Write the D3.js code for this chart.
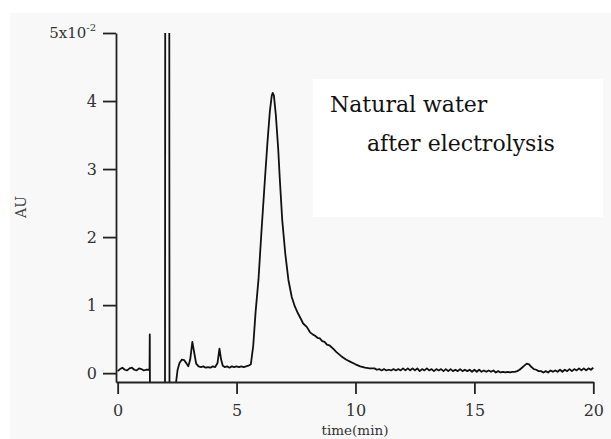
<!DOCTYPE html>
<html>
<head>
<meta charset="utf-8">
<script src="https://cdn.jsdelivr.net/npm/d3@7"></script>
<style>
  body { margin: 0; background: #fff; }
  text { font-family: "DejaVu Serif", "Liberation Serif", serif; }
</style>
</head>
<body>
<div id="chart"></div>
<script>
// Chromatogram: absorbance (x10^-2 AU) against retention time (min)

// baseline before the injection disturbance
var startTrace = [
  [0.0, 0.03], [0.1, 0.06], [0.2, 0.08], [0.3, 0.05], [0.4, 0.04], [0.5, 0.07],
  [0.6, 0.08], [0.7, 0.05], [0.8, 0.04], [0.9, 0.07], [1.0, 0.06], [1.1, 0.04],
  [1.2, 0.05], [1.3, 0.05], [1.34, 0.05], [1.35, 0.57], [1.36, -0.5]
];

// off-scale injection spike
var spikeTrace = [
  [1.99, -0.5], [2.0, 5.6], [2.17, 5.6], [2.18, -0.5], [2.44, -0.5]
];

// small peaks and the main peak
var peakTrace = [
  [2.45, -0.15], [2.52, 0.05], [2.6, 0.15], [2.7, 0.2], [2.8, 0.19], [2.9, 0.14],
  [2.97, 0.1], [3.05, 0.2], [3.14, 0.46], [3.22, 0.3], [3.3, 0.14], [3.4, 0.1],
  [3.5, 0.09], [3.6, 0.1], [3.7, 0.08], [3.8, 0.09], [3.9, 0.08], [4.0, 0.1],
  [4.1, 0.09], [4.2, 0.15], [4.28, 0.36], [4.35, 0.2], [4.42, 0.11], [4.5, 0.09],
  [4.6, 0.1], [4.7, 0.08], [4.8, 0.1], [4.9, 0.09], [5.0, 0.1], [5.1, 0.09],
  [5.2, 0.1], [5.3, 0.09], [5.4, 0.1], [5.5, 0.11], [5.6, 0.13],
  [5.7, 0.4], [5.8, 0.9], [5.92, 1.37], [6.05, 2.1], [6.19, 2.84], [6.3, 3.4],
  [6.4, 3.85], [6.48, 4.08], [6.52, 4.12], [6.57, 4.08], [6.65, 3.8], [6.75, 3.3],
  [6.82, 2.84], [6.92, 2.25], [7.05, 1.75], [7.18, 1.37], [7.32, 1.12], [7.45, 0.98],
  [7.58, 0.88], [7.7, 0.8], [7.8, 0.73], [7.95, 0.68], [8.09, 0.6], [8.2, 0.57],
  [8.3, 0.55], [8.4, 0.52], [8.5, 0.51], [8.6, 0.47], [8.7, 0.46], [8.8, 0.42],
  [8.9, 0.41], [9.06, 0.36], [9.2, 0.31], [9.4, 0.25], [9.6, 0.2], [9.77, 0.17],
  [10.0, 0.13], [10.2, 0.1], [10.4, 0.08], [10.6, 0.07]
];

// late baseline with the small peak near 17 min
var tailTrace = [
  [10.8, 0.07], [10.9, 0.05], [11.0, 0.06], [11.1, 0.04], [11.2, 0.06], [11.3, 0.04],
  [11.4, 0.05], [11.5, 0.04], [11.6, 0.06], [11.7, 0.04], [11.8, 0.06], [11.9, 0.04],
  [12.0, 0.07], [12.1, 0.04], [12.2, 0.07], [12.3, 0.04], [12.4, 0.07], [12.5, 0.04],
  [12.6, 0.07], [12.7, 0.03], [12.8, 0.06], [12.9, 0.04], [13.0, 0.07], [13.1, 0.04],
  [13.2, 0.06], [13.3, 0.03], [13.4, 0.06], [13.5, 0.04], [13.6, 0.06], [13.7, 0.03],
  [13.8, 0.06], [13.9, 0.03], [14.0, 0.06], [14.1, 0.03], [14.2, 0.05], [14.3, 0.03],
  [14.4, 0.06], [14.5, 0.03], [14.6, 0.05], [14.7, 0.03], [14.8, 0.05], [14.9, 0.02],
  [15.0, 0.05], [15.1, 0.02], [15.2, 0.05], [15.3, 0.02], [15.4, 0.04], [15.5, 0.02],
  [15.6, 0.04], [15.7, 0.02], [15.8, 0.04], [15.9, 0.01], [16.0, 0.03], [16.1, 0.01],
  [16.2, 0.02], [16.3, 0.01], [16.4, 0.02], [16.5, 0.01], [16.6, 0.02], [16.7, 0.02],
  [16.8, 0.03], [16.9, 0.05], [17.0, 0.08], [17.1, 0.11], [17.2, 0.14], [17.3, 0.13],
  [17.4, 0.09], [17.5, 0.06], [17.6, 0.05], [17.7, 0.03], [17.8, 0.03], [17.9, 0.01],
  [18.0, 0.03], [18.1, 0.01], [18.2, 0.04], [18.3, 0.02], [18.4, 0.04], [18.5, 0.02],
  [18.6, 0.05], [18.7, 0.02], [18.8, 0.05], [18.9, 0.03], [19.0, 0.06], [19.1, 0.03],
  [19.2, 0.06], [19.3, 0.04], [19.4, 0.07], [19.5, 0.04], [19.6, 0.07], [19.7, 0.04],
  [19.8, 0.07], [19.9, 0.05], [20.0, 0.08]
];

var xTicks = [0, 5, 10, 15, 20];
var yTicks = [0, 1, 2, 3, 4, 5];
var legendLines = ["Natural water", "after electrolysis"];

var trace = startTrace.concat(spikeTrace, peakTrace, tailTrace);

var W = 611, H = 439;

var svg = d3.select("#chart").append("svg")
    .attr("width", W)
    .attr("height", H);

// light grey page behind the plot
svg.append("rect")
    .attr("x", 10).attr("y", 13)
    .attr("width", W - 10).attr("height", H - 13)
    .attr("fill", "#f8f8f8");

var x = d3.scaleLinear().domain([-0.07, 20]).range([116, 593.3]);
var y = d3.scaleLinear().domain([-0.13, 5]).range([382, 33]);

svg.append("defs").append("clipPath")
    .attr("id", "plot-clip")
  .append("rect")
    .attr("x", x.range()[0]).attr("y", y.range()[1])
    .attr("width", x.range()[1] - x.range()[0] + 4)
    .attr("height", y.range()[0] - y.range()[1]);

// white label box
svg.append("rect")
    .attr("x", 313).attr("y", 79)
    .attr("width", 290).attr("height", 138)
    .attr("fill", "#fff");

var legend = svg.append("g").attr("fill", "#111").attr("font-size", 22);
legend.append("text").attr("x", 330).attr("y", 112).text(legendLines[0]);
legend.append("text").attr("x", 367).attr("y", 151).text(legendLines[1]);

// the trace
var line = d3.line()
    .x(function(d) { return x(d[0]); })
    .y(function(d) { return y(d[1]); });

svg.append("path")
    .datum(trace)
    .attr("clip-path", "url(#plot-clip)")
    .attr("fill", "none")
    .attr("stroke", "#111")
    .attr("stroke-width", 1.8)
    .attr("stroke-linejoin", "round")
    .attr("d", line);

// axes
var xAxis = svg.append("g")
    .attr("transform", "translate(0," + y.range()[0] + ")")
    .call(d3.axisBottom(x).tickValues(xTicks).tickSize(12).tickSizeOuter(0).tickPadding(11));

var yAxis = svg.append("g")
    .attr("transform", "translate(" + x.range()[0] + ",0)")
    .call(d3.axisLeft(y).tickValues(yTicks).tickSize(13).tickSizeOuter(0).tickPadding(6)
      .tickFormat(function(d) { return d === 5 ? "" : d; }));

[xAxis, yAxis].forEach(function(g) {
  g.select(".domain").attr("stroke", "#222").attr("stroke-width", 1.8);
  g.selectAll(".tick line").attr("stroke", "#222").attr("stroke-width", 1.8);
  g.selectAll(".tick text")
      .attr("fill", "#333")
      .attr("font-size", 16)
      .attr("font-family", null);
});

// top tick label 5x10^-2
var topLabel = svg.append("text")
    .attr("x", 96).attr("y", y(5) + 5)
    .attr("text-anchor", "end")
    .attr("fill", "#333")
    .attr("font-size", 15);
topLabel.append("tspan").text("5x10");
topLabel.append("tspan").attr("dy", -7).attr("font-size", 10).text("-2");

// axis titles
svg.append("text")
    .attr("transform", "translate(26,207) rotate(-90)")
    .attr("text-anchor", "middle")
    .attr("fill", "#444")
    .attr("font-size", 14)
    .text("AU");

svg.append("text")
    .attr("x", 355).attr("y", 435)
    .attr("text-anchor", "middle")
    .attr("fill", "#333")
    .attr("font-size", 13.5)
    .text("time(min)");
</script>
</body>
</html>
